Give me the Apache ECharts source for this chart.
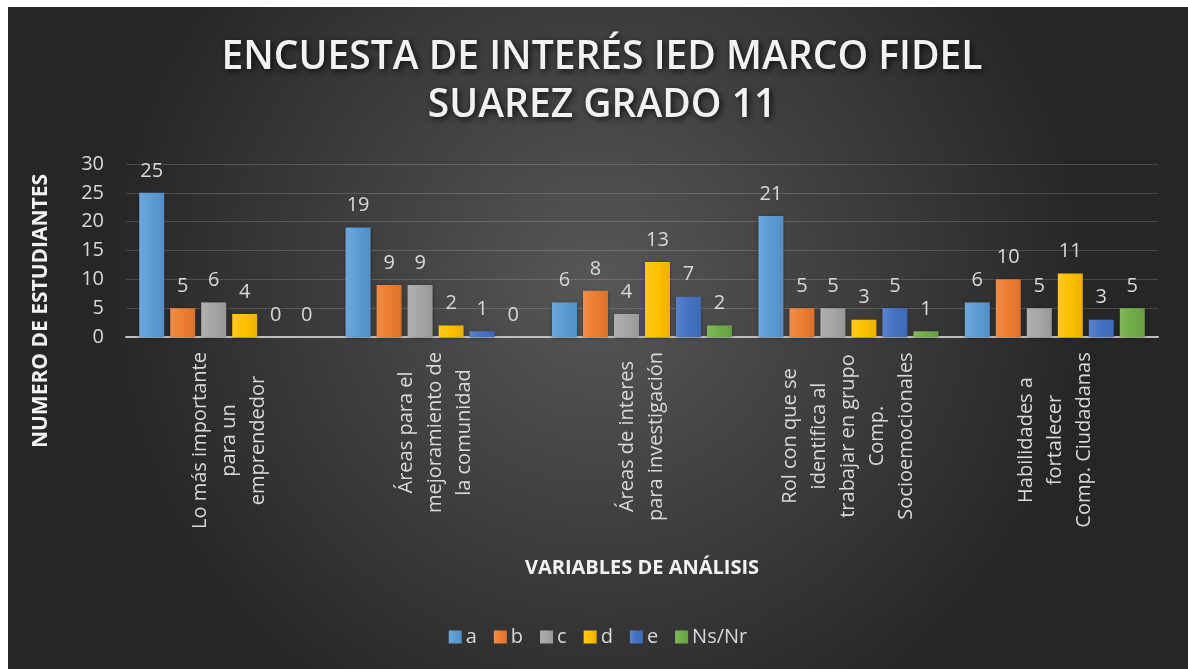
<!DOCTYPE html>
<html>
<head>
<meta charset="utf-8">
<script src="https://cdn.jsdelivr.net/npm/echarts@6/dist/echarts.min.js"></script>
<style>
html,body{margin:0;padding:0;background:#fff;width:1188px;height:669px;overflow:hidden;}
#chart{position:absolute;left:8px;top:7px;width:1180px;height:662px;}
</style>
</head>
<body>
<div id="chart"></div>
<script>
// ---- data ----
const categories = [
  "Lo más importante\npara un\nemprendedor",
  "Áreas para el\nmejoramiento de\nla comunidad",
  "Áreas de interes\npara investigación",
  "Rol con que se\nidentifica al\ntrabajar en grupo\nComp.\nSocioemocionales",
  "Habilidades a\nfortalecer\nComp. Ciudadanas"
];
const seriesNames = ["a", "b", "c", "d", "e", "Ns/Nr"];
const valuesA  = [25, 19, 6, 21, 6];
const valuesB  = [5, 9, 8, 5, 10];
const valuesC  = [6, 9, 4, 5, 5];
const valuesD  = [4, 2, 13, 3, 11];
const valuesE  = [0, 1, 7, 5, 3];
const valuesNs = [0, 0, 2, 1, 5];
const yTicks = [0, 5, 10, 15, 20, 25, 30];
const titleText = "ENCUESTA DE INTERÉS IED MARCO FIDEL\nSUAREZ GRADO 11";
const yName = "NUMERO DE ESTUDIANTES";
const xName = "VARIABLES DE ANÁLISIS";

// ---- styling ----
const colors = ["#5B9BD5", "#ED7D31", "#A5A5A5", "#FFC000", "#4472C4", "#70AD47"];
const textColor = "#D9D9D9";
const catFont = 20;
const catFamily = "Open Sans";

function shade(hex, f) {
  const n = parseInt(hex.slice(1), 16);
  let r = (n >> 16) & 255, g = (n >> 8) & 255, b = n & 255;
  const adj = v => Math.max(0, Math.min(255, Math.round(f > 0 ? v + (255 - v) * f : v * (1 + f))));
  return "rgb(" + adj(r) + "," + adj(g) + "," + adj(b) + ")";
}

// measure category label blocks so lines are centered within each block
const cvs = document.createElement("canvas").getContext("2d");
cvs.font = catFont + 'px "' + catFamily + '"';
const rich = {};
categories.forEach((c, i) => {
  const w = Math.max(...c.split("\n").map(l => cvs.measureText(l).width));
  rich["c" + i] = { width: Math.ceil(w) + 2, align: "center", fontSize: catFont, fontFamily: catFamily, color: textColor, lineHeight: 29 };
});

const allValues = [valuesA, valuesB, valuesC, valuesD, valuesE, valuesNs];

const chart = echarts.init(document.getElementById("chart"), null, { renderer: "canvas" });
chart.setOption({
  backgroundColor: {
    type: "radial", x: 0.5, y: 0.42, r: 0.75,
    colorStops: [{ offset: 0, color: "#575757" }, { offset: 1, color: "#262626" }]
  },
  title: {
    text: titleText,
    left: 589, top: 22, textAlign: "center",
    textStyle: {
      color: "#F2F2F2", fontSize: 39, fontWeight: 600, fontFamily: "Open Sans",
      lineHeight: 48, textShadowColor: "rgba(0,0,0,0.8)", textShadowBlur: 6, textShadowOffsetX: 2, textShadowOffsetY: 2
    }
  },
  legend: {
    data: seriesNames,
    left: "center", top: 615,
    itemWidth: 13, itemHeight: 13, itemGap: 17,
    icon: "rect",
    textStyle: { color: textColor, fontSize: 20, fontFamily: "Open Sans", padding: [0, 0, 0, -1] }
  },
  graphic: [{
    type: "text", x: 33, y: 304, rotation: Math.PI / 2,
    style: { text: yName, fill: "#F2F2F2", font: 'bold 21px "Open Sans"', textAlign: "center", textVerticalAlign: "middle" }
  }],
  grid: { left: 118, right: 30, top: 157, bottom: 332, containLabel: false },
  xAxis: {
    type: "category", data: categories,
    name: xName, nameLocation: "middle", nameGap: 221,
    nameTextStyle: { color: "#F2F2F2", fontSize: 20, fontWeight: "bold", fontFamily: "Open Sans" },
    axisLine: { lineStyle: { color: "#BFBFBF", width: 2 } },
    axisTick: { show: false },
    axisLabel: {
      rotate: 90, margin: 14, interval: 0,
      formatter: (v, i) => v.split("\n").map(l => "{c" + i + "|" + l + "}").join("\n"),
      rich: rich
    }
  },
  yAxis: {
    type: "value", min: 0, max: 30, interval: 5,
    axisLine: { show: false }, axisTick: { show: false },
    axisLabel: { color: textColor, fontSize: 20, fontFamily: "Open Sans", margin: 22,
      formatter: v => yTicks.includes(v) ? String(v) : "" },
    splitLine: { lineStyle: { color: "rgba(255,255,255,0.16)", width: 1 } }
  },
  series: seriesNames.map((n, k) => ({
    name: n, type: "bar", data: allValues[k],
    barWidth: 25, barGap: "24%",
    itemStyle: {
      color: {
        type: "linear", x: 0, y: 0, x2: 1, y2: 0,
        colorStops: [{ offset: 0, color: shade(colors[k], 0.12) }, { offset: 0.5, color: colors[k] }, { offset: 1, color: shade(colors[k], -0.08) }]
      },
      shadowColor: "rgba(0,0,0,0.35)", shadowBlur: 4, shadowOffsetY: 1
    },
    label: { show: true, position: "top", distance: 12, color: textColor, fontSize: 20, fontFamily: "Open Sans" }
  }))
});
</script>
</body>
</html>
